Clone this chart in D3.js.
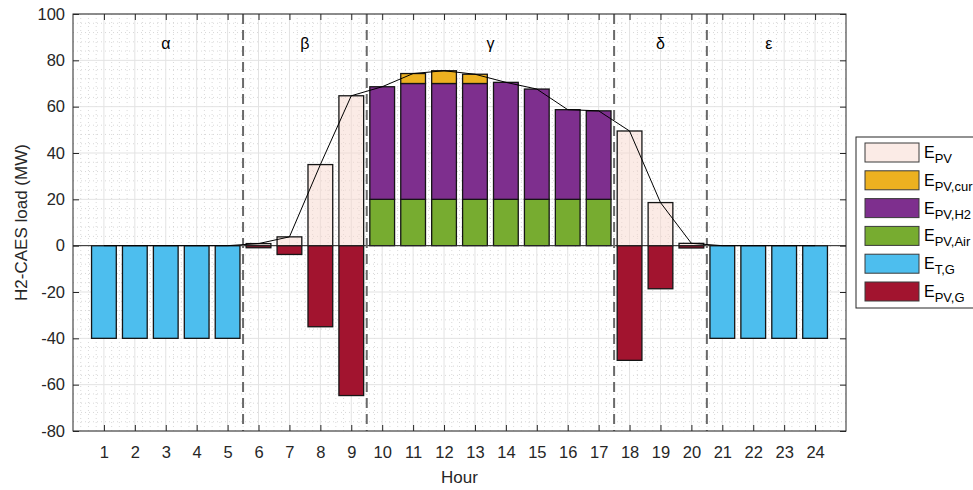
<!DOCTYPE html>
<html>
<head>
<meta charset="utf-8">
<script src="https://cdn.jsdelivr.net/npm/d3@7"></script>
<style>
  body { margin: 0; background: #fff; }
  text { font-family: "Liberation Sans", Arial, sans-serif; fill: #262626; }
</style>
</head>
<body>
<div id="chart"></div>
<script>
// hourly values (MW)
var hours  = d3.range(1, 25);
var ePV    = [0,0,0,0,0,0.9,3.8,35,64.7,0,0,0,0,0,0,0,0,49.5,18.6,1.0,0,0,0,0];
var eCur   = [0,0,0,0,0,0,0,0,0,0,4.3,5.5,4,0,0,0,0,0,0,0,0,0,0,0];
var eH2    = [0,0,0,0,0,0,0,0,0,48.6,50,50,50,50.5,47.6,38.7,38.2,0,0,0,0,0,0,0];
var eAir   = [0,0,0,0,0,0,0,0,0,20,20,20,20,20,20,20,20,0,0,0,0,0,0,0];
var eTG    = [-40,-40,-40,-40,-40,0,0,0,0,0,0,0,0,0,0,0,0,0,0,0,-40,-40,-40,-40];
var ePVG   = [0,0,0,0,0,-0.9,-3.8,-35,-64.7,0,0,0,0,0,0,0,0,-49.5,-18.6,-1.0,0,0,0,0];
var pvTotal = [0,0,0,0,0,0.9,3.8,35,64.7,68.6,74.3,75.5,74,70.5,67.6,58.7,58.2,49.5,18.6,1.0,0,0,0,0];

var yTicks = [100,80,60,40,20,0,-20,-40,-60,-80];
var periodBreaks = [5.5, 9.5, 17.5, 20.5];
var periodLabels = [{t:"α", h:3}, {t:"β", h:7.5}, {t:"γ", h:13.5}, {t:"δ", h:19}, {t:"ε", h:22.5}];

var colors = {
    pv: "#F7D8CD", cur: "#EDB120", h2: "#7E2F8E",
    air: "#77AC30", tg: "#4DBEEE", pvg: "#A2142F"
};

function draw_chart() {
    var width = 973, height = 490;
    var mLeft = 73, mRight = 846, mTop = 14, mBottom = 431;

    var svg = d3.select("#chart").append("svg")
        .attr("width", width).attr("height", height);

    var x = d3.scaleLinear().domain([0, 25]).range([mLeft, mRight]);
    var y = d3.scaleLinear().domain([-80, 100]).range([mBottom, mTop]);

    // minor grid (dotted)
    var g = svg.append("g");
    g.selectAll(".minx").data(d3.range(0, 25.01, 0.25).filter(function(d) { return d % 1 != 0; }))
        .enter().append("line")
        .attr("x1", function(d) { return x(d); }).attr("x2", function(d) { return x(d); })
        .attr("y1", mTop).attr("y2", mBottom)
        .attr("stroke", "#cfcfcf").attr("stroke-width", 0.8).attr("stroke-dasharray", "1,3");
    g.selectAll(".miny").data(d3.range(-80, 100, 4).filter(function(d) { return d % 20 != 0; }))
        .enter().append("line")
        .attr("x1", mLeft).attr("x2", mRight)
        .attr("y1", function(d) { return y(d); }).attr("y2", function(d) { return y(d); })
        .attr("stroke", "#cfcfcf").attr("stroke-width", 0.8).attr("stroke-dasharray", "1,3");
    // major grid
    g.selectAll(".majx").data(hours).enter().append("line")
        .attr("x1", function(d) { return x(d); }).attr("x2", function(d) { return x(d); })
        .attr("y1", mTop).attr("y2", mBottom)
        .attr("stroke", "#e3e3e3").attr("stroke-width", 1);
    g.selectAll(".majy").data(yTicks).enter().append("line")
        .attr("x1", mLeft).attr("x2", mRight)
        .attr("y1", function(d) { return y(d); }).attr("y2", function(d) { return y(d); })
        .attr("stroke", "#e3e3e3").attr("stroke-width", 1);

    var bw = 0.8;
    function bars(data, base, fill, opacity) {
        svg.append("g").selectAll("rect").data(hours.filter(function(d) { return data[d - 1] != 0; }))
            .enter().append("rect")
            .attr("x", function(d) { return x(d - bw / 2); })
            .attr("width", x(bw) - x(0))
            .attr("y", function(d) { var i = d - 1; return y(Math.max(base[i], base[i] + data[i])); })
            .attr("height", function(d) { var i = d - 1; return Math.abs(y(base[i]) - y(base[i] + data[i])); })
            .attr("fill", fill).attr("fill-opacity", opacity)
            .attr("stroke", "#151515").attr("stroke-width", 1.3);
    }
    var zeros = hours.map(function() { return 0; });
    var h2Base = eAir.slice();
    var curBase = eAir.map(function(v, i) { return v + eH2[i]; });
    bars(ePV, zeros, colors.pv, 0.5);
    bars(eAir, zeros, colors.air, 1);
    bars(eH2, h2Base, colors.h2, 1);
    bars(eCur, curBase, colors.cur, 1);
    bars(eTG, zeros, colors.tg, 1);
    bars(ePVG, zeros, colors.pvg, 1);

    // zero line
    svg.append("line").attr("x1", mLeft).attr("x2", mRight)
        .attr("y1", y(0)).attr("y2", y(0)).attr("stroke", "#262626").attr("stroke-width", 1);

    // period separators
    svg.append("g").selectAll("line").data(periodBreaks).enter().append("line")
        .attr("x1", function(d) { return x(d); }).attr("x2", function(d) { return x(d); })
        .attr("y1", mTop).attr("y2", mBottom)
        .attr("stroke", "#6a6a6a").attr("stroke-width", 2).attr("stroke-dasharray", "10,6");

    svg.append("g").selectAll("text").data(periodLabels).enter().append("text")
        .attr("x", function(d) { return x(d.h); }).attr("y", y(87) + 5)
        .attr("text-anchor", "middle").style("font-size", "16px").style("fill", "#000")
        .text(function(d) { return d.t; });

    // total PV line
    svg.append("path").datum(pvTotal)
        .attr("d", d3.line().x(function(d, i) { return x(i + 1); }).y(function(d) { return y(d); }))
        .attr("fill", "none").attr("stroke", "#000").attr("stroke-width", 1);

    // axes box and ticks
    svg.append("rect").attr("x", mLeft).attr("y", mTop).attr("width", mRight - mLeft).attr("height", mBottom - mTop)
        .attr("fill", "none").attr("stroke", "#262626").attr("stroke-width", 1);

    var axB = svg.append("g").attr("transform", "translate(0," + mBottom + ")")
        .call(d3.axisBottom(x).tickValues(hours).tickSizeInner(-6).tickSizeOuter(0).tickPadding(15));
    var axT = svg.append("g").attr("transform", "translate(0," + mTop + ")")
        .call(d3.axisTop(x).tickValues(hours).tickSizeInner(-6).tickSizeOuter(0).tickFormat(""));
    var axL = svg.append("g").attr("transform", "translate(" + mLeft + ",0)")
        .call(d3.axisLeft(y).tickValues(yTicks).tickSizeInner(-6).tickSizeOuter(0).tickPadding(8)
            .tickFormat(function(d) { return String(d); }));
    var axR = svg.append("g").attr("transform", "translate(" + mRight + ",0)")
        .call(d3.axisRight(y).tickValues(yTicks).tickSizeInner(-6).tickSizeOuter(0).tickFormat(""));
    [axB, axT, axL, axR].forEach(function(a) {
        a.select(".domain").remove();
        a.selectAll(".tick line").attr("stroke", "#262626");
        a.selectAll("text").style("font-size", "16.5px").style("font-family", "Liberation Sans, Arial, sans-serif").attr("fill", "#262626");
    });

    svg.append("text").attr("x", (mLeft + mRight) / 2).attr("y", 483)
        .attr("text-anchor", "middle").style("font-size", "17px").text("Hour");
    svg.append("text").attr("transform", "translate(27," + ((mTop + mBottom) / 2) + ") rotate(-90)")
        .attr("text-anchor", "middle").style("font-size", "17px").text("H2-CAES load (MW)");

    // legend
    var legendItems = [
        {sub: "PV", c: colors.pv, o: 0.5},
        {sub: "PV,cur", c: colors.cur, o: 1},
        {sub: "PV,H2", c: colors.h2, o: 1},
        {sub: "PV,Air", c: colors.air, o: 1},
        {sub: "T,G", c: colors.tg, o: 1},
        {sub: "PV,G", c: colors.pvg, o: 1}
    ];
    var lg = svg.append("g").attr("transform", "translate(856,137)");
    lg.append("rect").attr("width", 118).attr("height", 171).attr("fill", "#fff")
        .attr("stroke", "#262626").attr("stroke-width", 1);
    var li = lg.selectAll(".li").data(legendItems).enter().append("g")
        .attr("transform", function(d, i) { return "translate(9," + (6 + i * 27.8) + ")"; });
    li.append("rect").attr("width", 54).attr("height", 19)
        .attr("fill", function(d) { return d.c; }).attr("fill-opacity", function(d) { return d.o; })
        .attr("stroke", "#3a3a3a").attr("stroke-width", 1);
    var lt = li.append("text").attr("x", 59).attr("y", 15).style("font-size", "16px").style("fill", "#000");
    lt.append("tspan").text("E");
    lt.append("tspan").attr("dy", 5).style("font-size", "13px").text(function(d) { return d.sub; });
}

draw_chart();
</script>
</body>
</html>
